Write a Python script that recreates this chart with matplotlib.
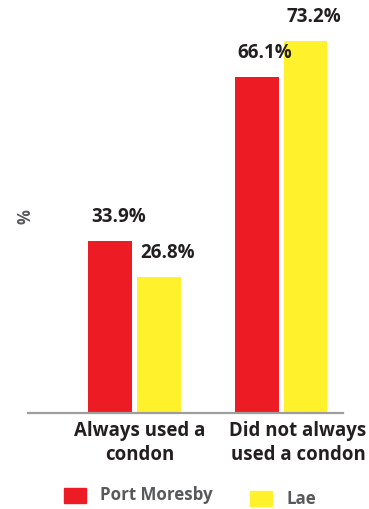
import matplotlib
matplotlib.use("Agg")
import matplotlib.pyplot as plt
from matplotlib.patches import Rectangle

categories = ["Always used a\ncondon", "Did not always\nused a condon"]
series_names = ["Port Moresby", "Lae"]
port_moresby = [33.9, 66.1]
lae = [26.8, 73.2]
colors = ["#ED1C24", "#FFF22D"]

plt.rcParams['font.family'] = ['Open Sans', 'DejaVu Sans']

W, H = 369, 509
fig = plt.figure(figsize=(W / 100, H / 100), dpi=100)
ax = fig.add_axes([28 / W, (H - 413) / H, 315 / W, 413 / H])

bw = 0.30
off = 0.167
x = list(range(len(categories)))
values = [port_moresby, lae]
for k, (vals, col) in enumerate(zip(values, colors)):
    xs = [i + (-off if k == 0 else off) for i in x]
    bars = ax.bar(xs, vals, width=bw, color=col, zorder=2)
    for b, v in zip(bars, vals):
        ax.annotate(f"{v:.1f}%", xy=(b.get_x(), v), xytext=(2.2, 13.5),
                    textcoords="offset points", ha="left", va="baseline",
                    fontsize=13.5, fontweight="bold", color="#231F20")

ax.set_xlim(-0.727, 1.423)
ax.set_ylim(0, 81.3)
for s in ["top", "right", "left"]:
    ax.spines[s].set_visible(False)
ax.spines["bottom"].set_color("#9D9D9D")
ax.spines["bottom"].set_linewidth(1.6)
ax.set_xticks([])
ax.set_yticks([])

cat_dx = [4.0, 12.2]
for i, (c, dx) in enumerate(zip(categories, cat_dx)):
    ax.annotate(c, xy=(i, 0), xytext=(dx, -6.0), textcoords="offset points",
                ha="center", va="top", multialignment="center",
                fontsize=13.4, fontweight="bold", color="#231F20", linespacing=1.22)

fig.text(25.5 / W, 1 - 217 / H, "%", rotation=90, ha="center", va="center",
         fontsize=12, fontweight="bold", color="#58595B")

leg = [(64, 488, 100), (250, 491, 286)]
for (px, py, tx), name, col in zip(leg, series_names, colors):
    fig.add_artist(Rectangle((px / W, 1 - (py + 15) / H), 22 / W, 15 / H,
                             transform=fig.transFigure, color=col))
    fig.text(tx / W, 1 - (py + 7.5) / H, name, ha="left", va="center",
             fontsize=12.2, fontweight="bold", color="#58595B")

fig.savefig("out.png", dpi=100)
